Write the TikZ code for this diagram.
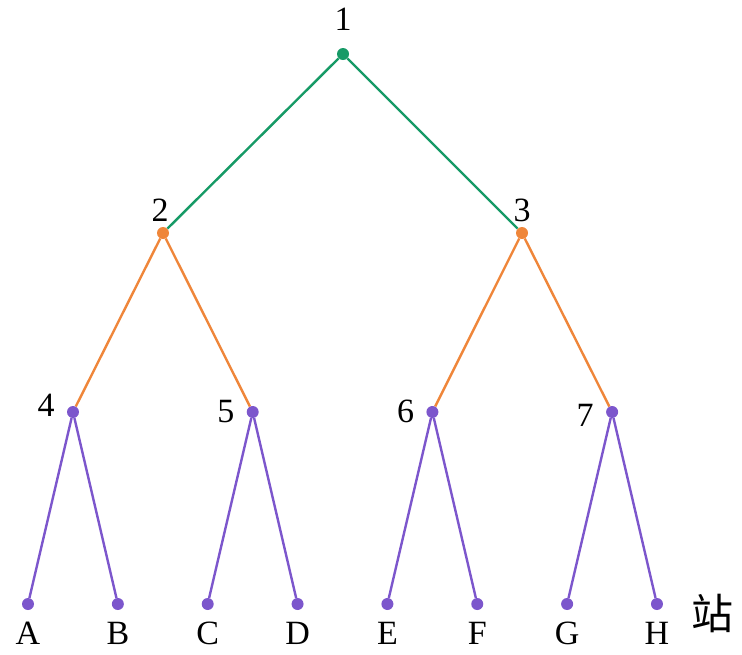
\documentclass[tikz,border=0pt]{standalone}
\usepackage{fontspec}
\setmainfont{Liberation Serif}
\newfontfamily\cjk{Noto Sans CJK SC}
\usetikzlibrary{positioning}

\definecolor{rootgreen}{RGB}{22,154,102}
\definecolor{midorange}{RGB}{239,134,58}
\definecolor{leafpurple}{RGB}{124,86,204}

\begin{document}
\begin{tikzpicture}[x=1pt,y=-1pt,
    dot/.style={circle,fill=#1,inner sep=0pt,minimum size=12pt},
    branch/.style={line width=2.4pt},
    every label/.style={inner sep=0pt,font=\fontsize{34}{40}\selectfont}
    ]
    \useasboundingbox (0,0) rectangle (742,654);

    % top of the tree
    \node[dot=rootgreen, label={[label distance=17pt]above:1}] (n1) at (343,54) {};
    \node[dot=midorange, label={[label distance=5pt, xshift=-3pt]above:2}] (n2) at (163,233) {};
    \node[dot=midorange, label={[label distance=5pt]above:3}] (n3) at (522,233) {};

    % second level
    \foreach \k/\dy [count=\i from 0] in {4/7,5/0,6/1,7/-3} {
        \node[dot=leafpurple, label={[label distance=12pt, yshift=\dy pt]left:\k}] (n\k) at ({73+179.7*\i},412) {};
    }

    % stations
    \foreach \s [count=\i from 0] in {A,B,C,D,E,F,G,H} {
        \node[dot=leafpurple, label={[label distance=12pt]below:\s}] (\s) at ({28+89.85*\i},604) {};
    }
    \node[inner sep=0pt, font=\cjk\fontsize{42}{46}\selectfont, right=28pt of H, yshift=-9pt] (station) {站};

    \draw[branch, rootgreen] (n2) -- (n1) -- (n3);
    \draw[branch, midorange] (n4) -- (n2) -- (n5);
    \draw[branch, midorange] (n6) -- (n3) -- (n7);
    \draw[branch, leafpurple]
        (A) -- (n4) -- (B)
        (C) -- (n5) -- (D)
        (E) -- (n6) -- (F)
        (G) -- (n7) -- (H);
\end{tikzpicture}
\end{document}
